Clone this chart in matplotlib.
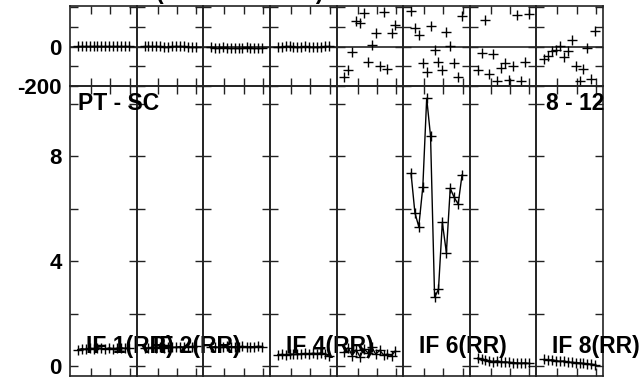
import matplotlib
matplotlib.use("Agg")
import matplotlib.pyplot as plt

# フォント設定
plt.rcParams['font.family'] = ['Liberation Sans', 'DejaVu Sans']
plt.rcParams['font.weight'] = 'bold'

# 観測時刻 (時間)
times = [0.32, 0.52, 0.72, 0.93, 1.13, 1.33, 1.54, 1.74, 1.94, 2.15, 2.35, 2.55, 2.76, 2.96]

if_names = ['IF 1(RR)', 'IF 2(RR)', 'IF 3(RR)', 'IF 4(RR)',
            'IF 5(RR)', 'IF 6(RR)', 'IF 7(RR)', 'IF 8(RR)']
label_shown = [True, True, False, True, False, True, False, True]

# 位相 (度)
phase_if1 = [3, 2, 4, 3, 5, 4, 6, 3, 4, 2, 3, 5, 2, 4]
phase_if2 = [4, 3, 5, 2, 1, -2, 0, 1, 3, 2, 1, 0, -1, -2]
phase_if3 = [-4, -5, -6, -4, -5, -6, -7, -5, -6, -4, -5, -7, -8, -6]
phase_if4 = [0, -1, 2, 1, 0, -2, -1, 1, 0, -1, -2, 0, 1, 2]
phase_if5 = [-153, -121, -27, 131, 120, 173, -79, 7, 69, -96, 179, -113, 72, 111]
phase_if6 = [182, 95, 57, -83, -130, 103, -19, -79, -120, 77, 2, -83, -153, 157]
phase_if7 = [-121, -32, 137, -137, -37, -175, -108, -83, -167, -100, 162, -175, -77, 167]
phase_if8 = [-62, -49, -24, -15, 5, -52, -24, 35, -96, -175, -116, -7, -163, 81]

# 振幅
amp_if1 = [0.62, 0.66, 0.64, 0.68, 0.66, 0.7, 0.67, 0.65, 0.69, 0.66, 0.68, 0.7, 0.67, 0.69]
amp_if2 = [0.7, 0.68, 0.72, 0.69, 0.71, 0.7, 0.73, 0.71, 0.72, 0.74, 0.72, 0.75, 0.73, 0.76]
amp_if3 = [0.72, 0.74, 0.71, 0.73, 0.75, 0.72, 0.74, 0.73, 0.75, 0.72, 0.74, 0.73, 0.75, 0.74]
amp_if4 = [0.42, 0.44, 0.43, 0.46, 0.44, 0.47, 0.45, 0.48, 0.46, 0.49, 0.47, 0.5, 0.45, 0.38]
amp_if5 = [0.55, 0.7, 0.4, 0.62, 0.35, 0.66, 0.5, 0.72, 0.45, 0.6, 0.42, 0.45, 0.4, 0.58]
amp_if6 = [7.34, 5.84, 5.31, 6.83, 10.2, 8.76, 2.62, 2.92, 5.47, 4.32, 6.77, 6.43, 6.17, 7.28]
amp_if7 = [0.3, 0.27, 0.22, 0.2, 0.17, 0.2, 0.15, 0.16, 0.14, 0.13, 0.12, 0.11, 0.12, 0.1]
amp_if8 = [0.25, 0.22, 0.24, 0.2, 0.18, 0.19, 0.15, 0.14, 0.13, 0.12, 0.1, 0.08, 0.07, 0.05]

phases = [phase_if1, phase_if2, phase_if3, phase_if4, phase_if5, phase_if6, phase_if7, phase_if8]
amps = [amp_if1, amp_if2, amp_if3, amp_if4, amp_if5, amp_if6, amp_if7, amp_if8]

W, H = 640, 381
fig = plt.figure(figsize=(W / 100, H / 100), dpi=100)
gs = fig.add_gridspec(2, 8, left=70 / W, right=603 / W, top=1 - 6 / H, bottom=1 - 376 / H,
                      height_ratios=[80, 290], hspace=0, wspace=0)

def style_axes(ax):
    ax.patch.set_facecolor('none')
    for sp in ax.spines.values():
        sp.set_color('#222222')
        sp.set_linewidth(1.2)
    ax.set_xlim(-0.09, 3.36)
    ax.set_xticks([1, 2, 3])
    ax.tick_params(direction='in', top=True, right=True, length=6, width=1,
                   color='#222222', labelbottom=False, labelsize=16, pad=6)

for i in range(8):
    ax_p = fig.add_subplot(gs[0, i])
    ax_a = fig.add_subplot(gs[1, i])
    style_axes(ax_p)
    style_axes(ax_a)

    # 位相
    ax_p.axhline(0, color='#222222', lw=1.2)
    ax_p.plot(times, phases[i], '+', color='k', ms=7, mew=1)
    ax_p.set_ylim(-200, 207)
    ax_p.set_yticks([-200, -100, 0, 100, 200])

    # 振幅
    ax_a.plot(times, amps[i], '-+', color='k', lw=1, ms=7, mew=1)
    ax_a.set_ylim(-0.38, 10.67)
    ax_a.set_yticks([0, 2, 4, 6, 8, 10])

    if i == 0:
        ax_p.set_yticklabels(['-200', '', '0', '', ''])
        ax_a.set_yticklabels(['0', '', '4', '', '8', ''])
    else:
        ax_p.tick_params(labelleft=False)
        ax_a.tick_params(labelleft=False)

    if label_shown[i]:
        ax_a.text(0.24, 0.103, if_names[i], transform=ax_a.transAxes, fontsize=16.5,
                  fontweight='bold', va='center', clip_on=False, zorder=10)

fig.text(78 / W, 1 - 104 / H, 'PT - SC', fontsize=16.5, fontweight='bold', va='center')
fig.text(604 / W, 1 - 104 / H, '8 - 12', fontsize=16.5, fontweight='bold', va='center', ha='right')
fig.text(240 / W, 1 + 1 / H, '(PT - SC  8 - 12)', fontsize=16.5, fontweight='bold',
         ha='center', va='baseline')

fig.savefig('out.png', dpi=100)
